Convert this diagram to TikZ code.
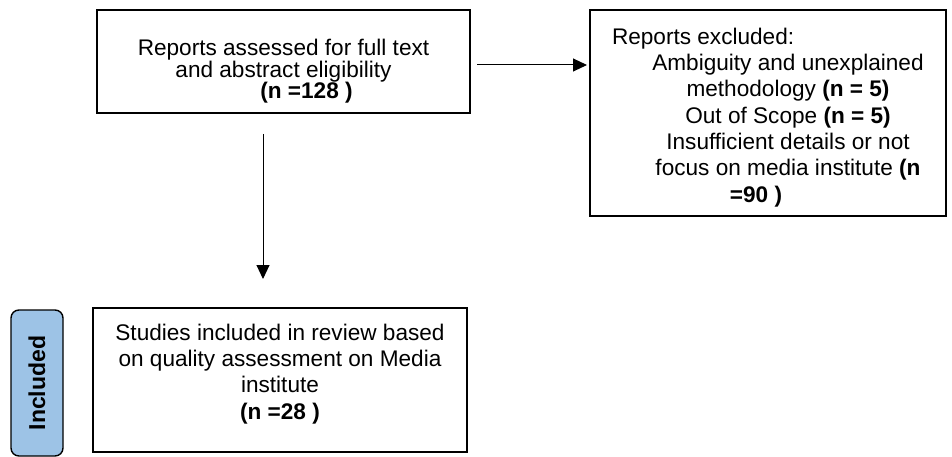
\documentclass[tikz,border=0pt]{standalone}
\usepackage{fontspec}
\setmainfont{Liberation Sans}
\usetikzlibrary{arrows.meta}
\definecolor{sidefill}{HTML}{9DC3E6}
\newcommand{\exline}[2][272pt]{\hspace*{40pt}\makebox[#1]{#2}}

\begin{document}
\begin{tikzpicture}[x=1pt, y=-1pt, thick,
    main/.style = {draw, line width=2pt, inner sep=0pt, align=center, font=\fontsize{22.6}{26.3}\selectfont},
    side/.style = {draw, line width=1.4pt, rounded corners=8pt, fill=sidefill, inner sep=0pt, font=\fontsize{23}{26}\selectfont\bfseries},
    arr/.style = {-{Triangle[length=14pt,width=13pt]}, line width=1pt}]
		\useasboundingbox (0,0) rectangle (952,457);
		\node[main, minimum width=373pt, minimum height=103pt, font=\fontsize{22.6}{21.7}\selectfont] (1) at (283.5,61.5) {\rule{0pt}{36pt}Reports assessed for full text\\and abstract eligibility\\\hspace*{46pt}\textbf{(n =128 )}};
		\node[main, align=left, minimum width=356pt, minimum height=206pt] (2) at (768,113) {\rule{0pt}{25pt}Reports excluded:\\\exline{Ambiguity and unexplained}\\\exline{methodology \textbf{(n = 5)}}\\\exline{Out of Scope \textbf{(n = 5)}}\\\exline{Insufficient details or not}\\\exline{focus on media institute \textbf{(n}}\\\exline[208pt]{\textbf{=90 )}}};
		\node[main, minimum width=374pt, minimum height=144pt] (3) at (280,380) {Studies included in review based\\on quality assessment on Media\\institute\\\textbf{(n =28 )}\rule[-17pt]{0pt}{0pt}};
		\node[side, rotate=90, minimum width=146pt, minimum height=52pt] (4) at (37,383) {Included};
		
		\draw[arr, shorten <=6pt, shorten >=2pt] ([yshift=-3.5pt]1.east) -- ([yshift=-3.5pt]1.east -| 2.west);
		\draw[arr, shorten <=20pt, shorten >=28pt] ([xshift=-20.5pt]1.south) -- ([xshift=-20.5pt]1.south |- 3.north);
		\end{tikzpicture}
\end{document}
